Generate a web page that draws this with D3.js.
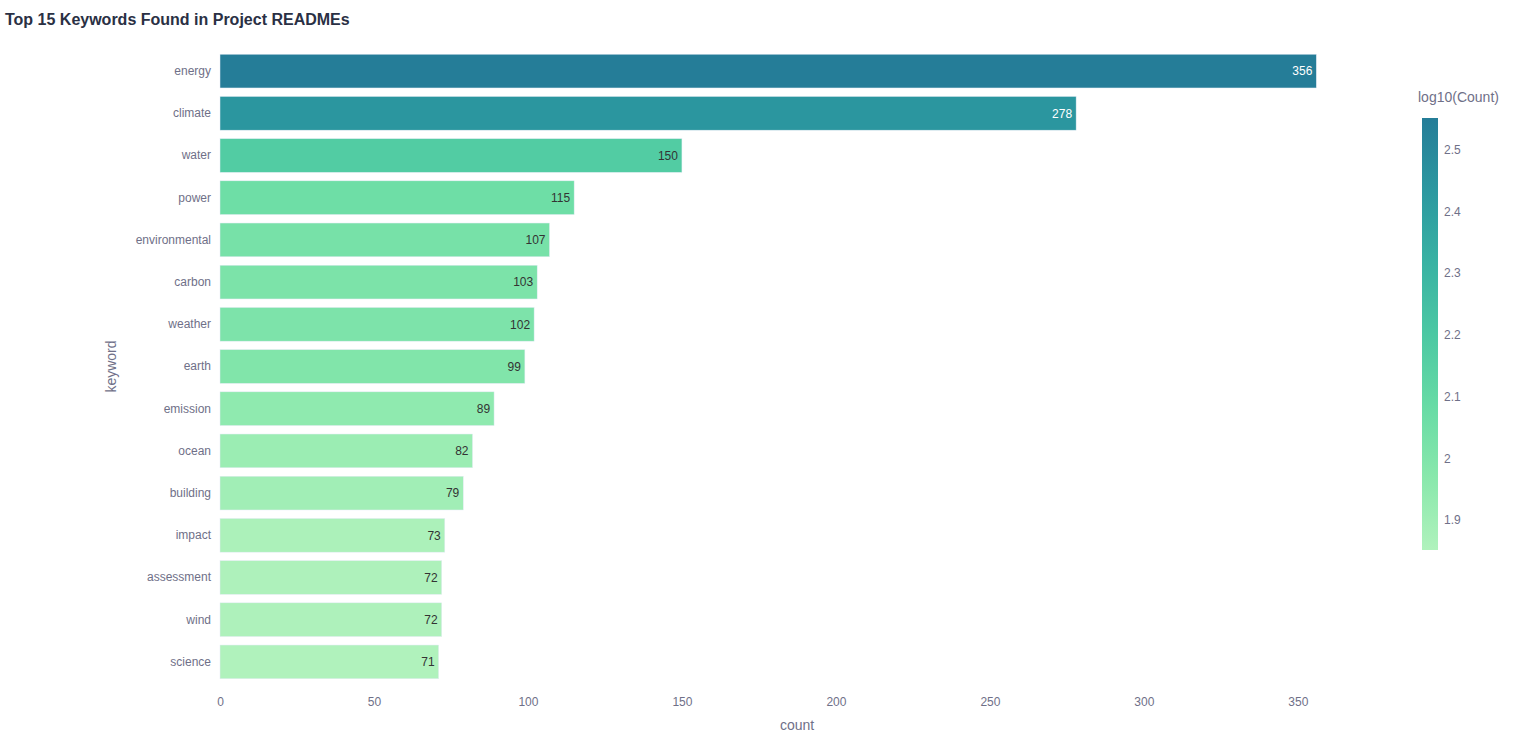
<!DOCTYPE html>
<html>
<head>
<meta charset="utf-8">
<script src="https://cdn.jsdelivr.net/npm/d3@7"></script>
<style>
  body { margin: 0; background: #fff; }
  text { font-family: "Liberation Sans", Arial, Helvetica, sans-serif; }
</style>
</head>
<body>
<svg id="chart"></svg>
<script>
// data
var keywords = ["energy", "climate", "water", "power", "environmental", "carbon", "weather",
  "earth", "emission", "ocean", "building", "impact", "assessment", "wind", "science"];
var counts = [356, 278, 150, 115, 107, 103, 102, 99, 89, 82, 79, 73, 72, 72, 71];
var xTicks = [0, 50, 100, 150, 200, 250, 300, 350];
var cbTicks = [1.9, 2, 2.1, 2.2, 2.3, 2.4, 2.5];
var tealgrn = ["#b0f2bc", "#89e8ac", "#67dba5", "#4cc8a3", "#38b2a3", "#2c98a0", "#257d98"];

var W = 1536, H = 750;
var margin = {top: 50, right: 162, bottom: 67, left: 220};
var width = W - margin.left - margin.right;
var height = H - margin.top - margin.bottom;
var tickColor = "#6f7088";

var data = keywords.map(function(k, i) { return {k: k, v: counts[i], lg: Math.log10(counts[i])}; });

var svg = d3.select("#chart").attr("width", W).attr("height", H);

svg.append("text")
  .attr("x", 5).attr("y", 25)
  .style("font-size", "16px").style("font-weight", "bold")
  .style("fill", "#2a3044")
  .text("Top 15 Keywords Found in Project READMEs");

var g = svg.append("g").attr("transform", "translate(" + margin.left + "," + margin.top + ")");

var x = d3.scaleLinear().domain([0, d3.max(counts) * 1.0526]).range([0, width]);
var y = d3.scaleBand().domain(keywords).range([0, height]).paddingInner(0.2).paddingOuter(0.1);

var lgExt = d3.extent(data, function(d) { return d.lg; });
var color = d3.scaleLinear()
  .domain(tealgrn.map(function(c, i) { return lgExt[0] + (lgExt[1] - lgExt[0]) * i / (tealgrn.length - 1); }))
  .range(tealgrn)
  .interpolate(d3.interpolateRgb);

g.selectAll("rect.bar").data(data).enter().append("rect")
  .attr("class", "bar")
  .attr("x", x(0))
  .attr("y", function(d) { return y(d.k); })
  .attr("width", function(d) { return x(d.v) - x(0); })
  .attr("height", y.bandwidth())
  .style("fill", function(d) { return color(d.lg); })
  .style("stroke", "#e5ecf6").style("stroke-width", 0.5);

g.selectAll("text.val").data(data).enter().append("text")
  .attr("class", "val")
  .attr("x", function(d) { return x(d.v) - 4; })
  .attr("y", function(d) { return y(d.k) + y.bandwidth() / 2; })
  .attr("dy", "0.35em")
  .attr("text-anchor", "end")
  .style("font-size", "12px")
  .style("fill", function(d) { return d3.hsl(color(d.lg)).l < 0.5 ? "#ffffff" : "#333333"; })
  .text(function(d) { return d.v; });

var yAxis = g.append("g").call(d3.axisLeft(y).tickSize(0).tickPadding(9));
yAxis.select(".domain").remove();
yAxis.selectAll("text").style("font-size", "12px").style("fill", tickColor);

var xAxis = g.append("g").attr("transform", "translate(0," + height + ")")
  .call(d3.axisBottom(x).tickValues(xTicks).tickSize(0).tickPadding(14));
xAxis.select(".domain").remove();
xAxis.selectAll("text").style("font-size", "12px").style("fill", tickColor);

svg.append("text")
  .attr("transform", "translate(116," + (margin.top + height / 2) + ") rotate(-90)")
  .attr("text-anchor", "middle")
  .style("font-size", "14px").style("fill", tickColor)
  .text("keyword");

svg.append("text")
  .attr("x", margin.left + width / 2).attr("y", 730)
  .attr("text-anchor", "middle")
  .style("font-size", "14px").style("fill", tickColor)
  .text("count");

// colorbar
var cbX = 1422, cbW = 16, cbTop = 118, cbBot = 550;
var defs = svg.append("defs");
var grad = defs.append("linearGradient").attr("id", "cbgrad")
  .attr("x1", 0).attr("y1", 1).attr("x2", 0).attr("y2", 0);
grad.selectAll("stop").data(tealgrn).enter().append("stop")
  .attr("offset", function(c, i) { return i / (tealgrn.length - 1); })
  .attr("stop-color", function(c) { return c; });

svg.append("rect")
  .attr("x", cbX).attr("y", cbTop).attr("width", cbW).attr("height", cbBot - cbTop)
  .style("fill", "url(#cbgrad)");

var cy = d3.scaleLinear().domain(lgExt).range([cbBot, cbTop]);
var cbAxis = svg.append("g").attr("transform", "translate(" + (cbX + cbW) + ",0)")
  .call(d3.axisRight(cy).tickValues(cbTicks).tickSize(0).tickPadding(6).tickFormat(d3.format("")));
cbAxis.select(".domain").remove();
cbAxis.selectAll("text").style("font-size", "12px").style("fill", tickColor);

svg.append("text")
  .attr("x", 1418).attr("y", 102)
  .style("font-size", "14px").style("fill", tickColor)
  .text("log10(Count)");
</script>
</body>
</html>
